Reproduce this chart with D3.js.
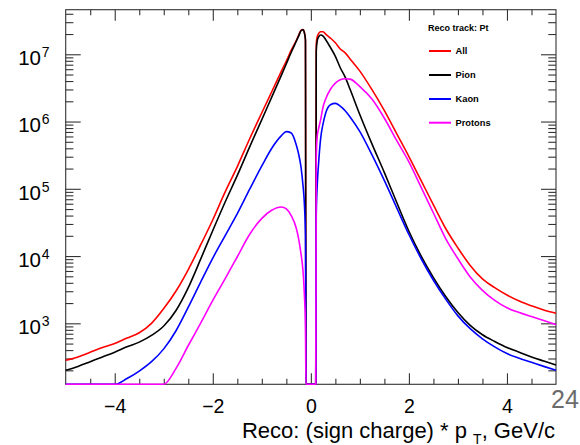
<!DOCTYPE html>
<html>
<head>
<meta charset="utf-8">
<script src="https://cdn.jsdelivr.net/npm/d3@7"></script>
<style>
  body { margin: 0; background: #fff; }
  svg { display: block; }
  text { font-family: "Liberation Sans", Arial, Helvetica, sans-serif; }
</style>
</head>
<body>
<svg id="chart" width="580" height="445"></svg>
<script>
// Signed transverse momentum (GeV/c) at which each count is sampled
const binCenters = [-5, -4.75, -4.5, -4.25, -4, -3.75, -3.5, -3.25, -3, -2.75,
  -2.5, -2.25, -2, -1.75, -1.5, -1.25, -1, -0.8, -0.6, -0.5,
  -0.4, -0.3, -0.25, -0.2, -0.16, -0.13, -0.11, -0.1, 0.1, 0.11,
  0.13, 0.16, 0.2, 0.25, 0.3, 0.4, 0.5, 0.6, 0.7, 0.8,
  1, 1.25, 1.5, 1.75, 2, 2.25, 2.5, 2.75, 3, 3.25,
  3.5, 3.75, 4, 4.25, 4.5, 4.75, 5];

// Entries per bin for each particle selection
const allCounts = [282, 316, 372, 437, 501, 603, 724, 1000, 1660, 3020,
  6310, 14500, 34700, 89100, 214000, 550000, 1350000, 2750000, 5620000, 7940000,
  11500000, 15800000, 19100000, 22900000, 23400000, 20900000, 16600000, 0, 0, 14100000,
  18200000, 20400000, 21600000, 21600000, 20000000, 17400000, 14800000, 12000000, 10500000, 8510000,
  5620000, 2950000, 1450000, 661000, 302000, 132000, 57500, 25700, 13200, 7240,
  4570, 3390, 2630, 2140, 1820, 1580, 1410];

const pionCounts = [200, 229, 269, 316, 372, 447, 525, 661, 912, 1550,
  3390, 8910, 24000, 63100, 158000, 417000, 1070000, 2290000, 4900000, 7240000,
  10700000, 15500000, 18600000, 22400000, 23200000, 20400000, 16200000, 0, 0, 11200000,
  15800000, 18200000, 19300000, 18600000, 16600000, 12600000, 9330000, 6310000, 4570000, 3020000,
  1260000, 457000, 174000, 63100, 23400, 10000, 4790, 2510, 1450, 933,
  676, 537, 437, 372, 316, 275, 240];

const kaonCounts = [50, 60, 72, 89, 117, 151, 195, 269, 417, 776,
  1740, 4070, 9330, 20000, 42700, 97700, 219000, 398000, 617000, 708000,
  676000, 457000, 331000, 209000, 112000, 56200, 20000, 0, 0, 39800,
  112000, 251000, 562000, 933000, 1320000, 1780000, 1860000, 1700000, 1450000, 1170000,
  708000, 316000, 132000, 52500, 20900, 9120, 4370, 2290, 1290, 832,
  589, 447, 355, 302, 263, 229, 200];

const protonCounts = [0, 0, 0, 0, 0, 0, 0, 0, 89, 214,
  468, 1000, 2190, 4570, 9770, 20900, 36300, 47900, 53700, 50100,
  39800, 26300, 18200, 10700, 6030, 2510, 891, 0, 0, 282000,
  603000, 794000, 1070000, 1660000, 2140000, 3020000, 3720000, 4170000, 4320000, 4270000,
  3310000, 2140000, 1120000, 525000, 251000, 105000, 43700, 18200, 9120, 4900,
  3090, 2190, 1700, 1450, 1260, 1100, 955];

const seriesNames = ["All", "Pion", "Kaon", "Protons"];
const seriesColors = ["#ff0000", "#000000", "#0000ff", "#ff00ff"];
const seriesCounts = [allCounts, pionCounts, kaonCounts, protonCounts];

const legendTitle = "Reco track: Pt";
const xMajorTicks = [-4, -2, 0, 2, 4];
const yDecades = [1e3, 1e4, 1e5, 1e6, 1e7];
const yDecadeExponents = ["3", "4", "5", "6", "7"];
const pageNumber = "24";

// ---- layout ----
const frame = { left: 65.7, right: 556, top: 9.7, bottom: 384.3 };
const yMin = 124, yMax = 4.6e7;

const svg = d3.select("#chart");
const x = d3.scaleLinear().domain([-5, 5]).range([frame.left, frame.right]);
const y = d3.scaleLog().domain([yMin, yMax]).range([frame.bottom, frame.top]);

const axisColor = "#333";

// frame
svg.append("rect")
  .attr("x", frame.left).attr("y", frame.top)
  .attr("width", frame.right - frame.left).attr("height", frame.bottom - frame.top)
  .attr("fill", "none").attr("stroke", axisColor).attr("stroke-width", 1.1);

function styleAxis(g) {
  g.select(".domain").remove();
  g.selectAll(".tick line").attr("stroke", axisColor).attr("stroke-width", 1.1);
}

const xMinorTicks = d3.range(-4.5, 5, 0.5).filter(v => !xMajorTicks.includes(v));
const yMinorTicks = [];
[100, 1e3, 1e4, 1e5, 1e6, 1e7].forEach(d => {
  for (let k = 2; k <= 9; k++) {
    const v = k * d;
    if (v > yMin && v < yMax) yMinorTicks.push(v);
  }
});

// bottom axis with labels
svg.append("g")
  .attr("transform", `translate(0,${frame.bottom})`)
  .call(d3.axisBottom(x).tickValues(xMajorTicks).tickSize(-11).tickPadding(14.8)
    .tickFormat(d3.format("d")))
  .call(styleAxis)
  .call(g => g.selectAll("text").attr("font-size", 19.5).attr("fill", "#000")
    .attr("font-family", "'Liberation Sans', Arial, sans-serif"));
svg.append("g")
  .attr("transform", `translate(0,${frame.bottom})`)
  .call(d3.axisBottom(x).tickValues(xMinorTicks).tickSize(-5.5).tickFormat(""))
  .call(styleAxis);

// top axis (ticks only)
svg.append("g")
  .attr("transform", `translate(0,${frame.top})`)
  .call(d3.axisTop(x).tickValues(xMajorTicks).tickSize(-11).tickFormat(""))
  .call(styleAxis);
svg.append("g")
  .attr("transform", `translate(0,${frame.top})`)
  .call(d3.axisTop(x).tickValues(xMinorTicks).tickSize(-5.5).tickFormat(""))
  .call(styleAxis);

// left and right axes (ticks only; power-of-ten labels drawn below)
[[d3.axisLeft, frame.left], [d3.axisRight, frame.right]].forEach(([axisFn, pos]) => {
  svg.append("g")
    .attr("transform", `translate(${pos},0)`)
    .call(axisFn(y).tickValues(yDecades).tickSize(-15).tickFormat(""))
    .call(styleAxis);
  svg.append("g")
    .attr("transform", `translate(${pos},0)`)
    .call(axisFn(y).tickValues(yMinorTicks).tickSize(-7.7).tickFormat(""))
    .call(styleAxis);
});

// y labels: 10^n
const yLab = svg.append("g");
yDecades.forEach((d, i) => {
  yLab.append("text")
    .attr("x", 41).attr("y", y(d) + 10.7)
    .attr("text-anchor", "end").attr("font-size", 20.5).attr("fill", "#000")
    .text("10");
  yLab.append("text")
    .attr("x", 41.8).attr("y", y(d) + 2.7)
    .attr("text-anchor", "start").attr("font-size", 14).attr("fill", "#000")
    .text(yDecadeExponents[i]);
});

// histogram outlines; bins below the axis minimum sit on the bottom edge
const line = d3.line()
  .x(d => x(d[0]))
  .y(d => y(Math.max(d[1], yMin)))
  .curve(d3.curveMonotoneX);

seriesCounts.forEach((counts, i) => {
  const pts = binCenters.map((c, j) => [c, counts[j]]);
  svg.append("path")
    .datum(pts)
    .attr("d", line)
    .attr("fill", "none")
    .attr("stroke", seriesColors[i])
    .attr("stroke-width", 1.6)
    .attr("stroke-linejoin", "round");
});

// legend
const legend = svg.append("g");
legend.append("text")
  .attr("x", 428).attr("y", 30.5)
  .attr("font-size", 9).attr("font-weight", "bold").attr("fill", "#000")
  .text(legendTitle);
const legendY = [51, 75, 99, 122.7];
seriesNames.forEach((name, i) => {
  legend.append("line")
    .attr("x1", 429).attr("x2", 451)
    .attr("y1", legendY[i]).attr("y2", legendY[i])
    .attr("stroke", seriesColors[i]).attr("stroke-width", 2);
  legend.append("text")
    .attr("x", 455.5).attr("y", legendY[i] + 3.4)
    .attr("font-size", 9.3).attr("font-weight", "bold").attr("fill", "#000")
    .text(name);
});

// x-axis title
const title = svg.append("text")
  .attr("x", 555).attr("y", 437.5)
  .attr("text-anchor", "end").attr("font-size", 22).attr("fill", "#000");
title.append("tspan").text("Reco: (sign charge) * p ");
title.append("tspan").attr("font-size", 14).attr("dy", 6).text("T");
title.append("tspan").attr("dy", -6).text(", GeV/c");

// page number
svg.append("text")
  .attr("x", 551).attr("y", 408)
  .attr("font-size", 25).attr("fill", "#6b6b6b")
  .text(pageNumber);
</script>
</body>
</html>
